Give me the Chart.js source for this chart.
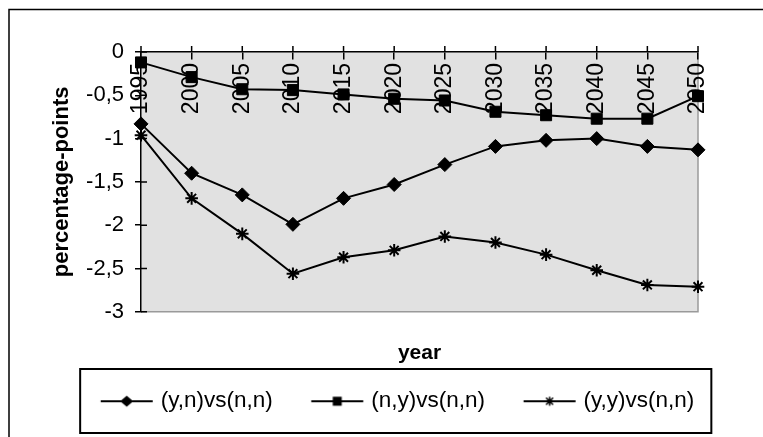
<!DOCTYPE html>
<html>
<head>
<meta charset="utf-8">
<script src="https://cdn.jsdelivr.net/npm/chart.js@4/dist/chart.umd.min.js"></script>
<style>
  html, body { margin: 0; padding: 0; background: #fff; overflow: hidden; }
  #wrap { position: relative; width: 763px; height: 437px; }
</style>
</head>
<body>
<div id="wrap"><canvas id="c" width="763" height="437"></canvas></div>
<script>
// ---- data ----
const years = ['1995','2000','2005','2010','2015','2020','2025','2030','2035','2040','2045','2050'];
const seriesNames = ['(y,n)vs(n,n)', '(n,y)vs(n,n)', '(y,y)vs(n,n)'];
const ynVsNn = [-0.83, -1.40, -1.65, -1.99, -1.69, -1.53, -1.30, -1.09, -1.02, -1.00, -1.09, -1.13];
const nyVsNn = [-0.12, -0.29, -0.43, -0.44, -0.49, -0.54, -0.56, -0.69, -0.73, -0.77, -0.77, -0.51];
const yyVsNn = [-0.96, -1.69, -2.10, -2.56, -2.37, -2.29, -2.13, -2.20, -2.34, -2.52, -2.69, -2.71];
const yTickMin = -3, yTickMax = 0, yTickStep = 0.5;
const xTitle = 'year';
const yTitle = 'percentage-points';

Chart.defaults.font.family = '"Liberation Sans", Arial, sans-serif';
Chart.defaults.color = '#000';

// legend symbol images (line + marker)
function legendSymbol(kind) {
  const c = document.createElement('canvas');
  c.width = 86; c.height = 16;
  const g = c.getContext('2d');
  const x0 = 32.9, x1 = 84.9, cy = 8, cx = (x0 + x1) / 2;
  g.strokeStyle = '#000'; g.fillStyle = '#000'; g.lineWidth = 2;
  g.beginPath(); g.moveTo(x0, cy); g.lineTo(x1, cy); g.stroke();
  if (kind === 'diamond') {
    g.beginPath(); g.moveTo(cx, cy - 5.5); g.lineTo(cx + 6.5, cy); g.lineTo(cx, cy + 5.5); g.lineTo(cx - 6.5, cy); g.closePath(); g.fill();
  } else if (kind === 'square') {
    g.fillRect(cx - 4.5, cy - 4.5, 9, 9);
  } else {
    g.lineWidth = 1.5;
    g.beginPath();
    g.moveTo(cx - 3.5, cy - 3.5); g.lineTo(cx + 3.5, cy + 3.5);
    g.moveTo(cx + 3.5, cy - 3.5); g.lineTo(cx - 3.5, cy + 3.5);
    g.moveTo(cx, cy - 4.5); g.lineTo(cx, cy + 4.5);
    g.stroke();
  }
  return c;
}
const legendImgs = [legendSymbol('diamond'), legendSymbol('square'), legendSymbol('star')];

const decor = {
  id: 'decor',
  beforeDraw(chart) {
    const {ctx, chartArea: a} = chart;
    ctx.save();
    ctx.fillStyle = '#e1e1e1';
    ctx.fillRect(a.left, a.top, a.right - a.left, a.bottom - a.top);
    ctx.strokeStyle = '#9a9a9a';
    ctx.lineWidth = 1.5;
    ctx.beginPath();
    ctx.moveTo(a.left, a.bottom); ctx.lineTo(a.right, a.bottom); ctx.lineTo(a.right, a.top);
    ctx.stroke();
    // outer frame
    ctx.strokeStyle = '#000';
    ctx.lineWidth = 1.5;
    ctx.beginPath();
    ctx.moveTo(9, 437); ctx.lineTo(9, 9.5); ctx.lineTo(763, 9.5);
    ctx.stroke();
    ctx.restore();
  },
  afterDraw(chart) {
    const {ctx, chartArea: a} = chart;
    const xs = chart.scales.x, ys = chart.scales.y;
    ctx.save();
    ctx.strokeStyle = '#000';
    ctx.lineWidth = 1.5;
    ctx.beginPath();
    // inner halves of crossing tick marks
    for (let i = 0; i < ys.ticks.length; i++) {
      const y = ys.getPixelForTick(i);
      ctx.moveTo(a.left, y); ctx.lineTo(a.left + 6, y);
    }
    const y0 = ys.getPixelForValue(0);
    for (let i = 0; i < xs.ticks.length; i++) {
      const x = xs.getPixelForTick(i);
      ctx.moveTo(x, y0); ctx.lineTo(x, y0 - 6);
    }
    ctx.stroke();
    // legend frame
    const lg = chart.legend;
    const hb = lg.legendHitBoxes;
    if (hb && hb.length) {
      const l = hb[0].left + 8;
      const r = hb[hb.length - 1].left + hb[hb.length - 1].width + 17;
      ctx.lineWidth = 2;
      ctx.strokeRect(l, lg.top - 11, r - l, lg.bottom + 10.5 - (lg.top - 11));
    }
    ctx.restore();
  }
};

const markerCommon = { borderColor: '#000', borderWidth: 2, pointBackgroundColor: '#000', pointBorderColor: '#000', tension: 0, fill: false };

new Chart(document.getElementById('c'), {
  type: 'line',
  data: {
    labels: years,
    datasets: [
      Object.assign({ label: seriesNames[0], data: ynVsNn, pointStyle: 'rectRot', pointRadius: 7, pointBorderWidth: 1 }, markerCommon),
      Object.assign({ label: seriesNames[1], data: nyVsNn, pointStyle: 'rect', pointRadius: 7.8, pointBorderWidth: 1 }, markerCommon),
      Object.assign({ label: seriesNames[2], data: yyVsNn, pointStyle: 'star', pointRadius: 6.3, pointBorderWidth: 2 }, markerCommon)
    ]
  },
  options: {
    responsive: false,
    animation: false,
    devicePixelRatio: 1,
    layout: { padding: { left: 40, right: 36.5, top: 52, bottom: 14.5 } },
    scales: {
      x: {
        type: 'category',
        position: { y: 0 },
        offset: false,
        afterFit(s) { s.height = 0; },
        border: { display: true, color: '#000', width: 1.5 },
        grid: { display: true, drawOnChartArea: false, drawTicks: true, tickLength: 7, color: '#000', lineWidth: 1.5 },
        ticks: { autoSkip: false, minRotation: 90, maxRotation: 90, padding: 4, font: { size: 23 }, color: '#000' }
      },
      y: {
        position: 'left',
        min: yTickMin,
        max: yTickMax,
        afterFit(s) { s.width = 101; },
        border: { display: true, color: '#000', width: 1.5 },
        grid: { display: true, drawOnChartArea: false, drawTicks: true, tickLength: 6, color: '#000', lineWidth: 1.5 },
        ticks: {
          stepSize: yTickStep,
          padding: 11,
          font: { size: 22 },
          color: '#000',
          callback: v => String(v).replace('.', ',')
        },
        title: { display: true, text: yTitle, font: { size: 22, weight: 'bold' }, padding: { top: 9, bottom: 0 }, color: '#000' }
      },
      y2: {
        position: 'right',
        display: true,
        afterFit(s) { s.width = 28.5; },
        grid: { display: false },
        border: { display: false },
        ticks: { display: false }
      }
    },
    plugins: {
      title: {
        display: true,
        text: xTitle,
        position: 'bottom',
        fullSize: false,
        weight: 2000,
        font: { size: 21, weight: 'bold' },
        color: '#000',
        padding: { top: 29, bottom: 14 }
      },
      legend: {
        display: true,
        position: 'bottom',
        weight: 3000,
        labels: {
          usePointStyle: true,
          pointStyleWidth: 77.25,
          padding: 10,
          font: { size: 22.5 },
          color: '#000',
          generateLabels(chart) {
            const items = Chart.defaults.plugins.legend.labels.generateLabels(chart);
            items.forEach((it, i) => { it.pointStyle = legendImgs[i]; it.lineWidth = 0; });
            return items;
          }
        }
      },
      tooltip: { enabled: false }
    }
  },
  plugins: [decor]
});
</script>
</body>
</html>
